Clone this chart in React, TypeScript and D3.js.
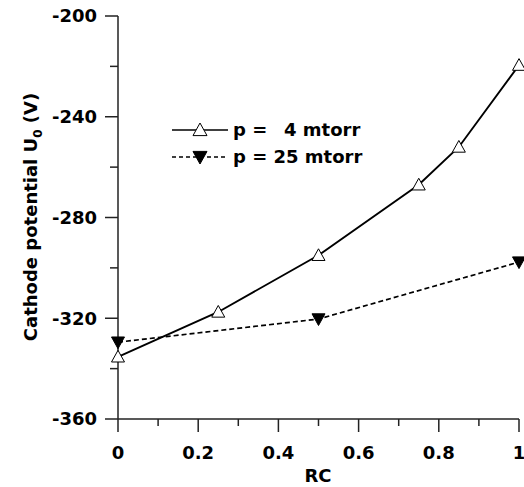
import React from "react";
import * as d3 from "d3";

const rc4 = [0, 0.25, 0.5, 0.75, 0.85, 1.0];
const u4 = [-335.3, -317.5, -295, -267, -252, -219.5];
const rc25 = [0, 0.5, 1.0];
const u25 = [-329.5, -320.3, -297.7];
const xMajor = [0, 0.2, 0.4, 0.6, 0.8, 1];
const xMinor = [0.1, 0.3, 0.5, 0.7, 0.9];
const yMajor = [-360, -320, -280, -240, -200];
const yMinor = [-340, -300, -260, -220];
const legendLabels = ["p =", "4 mtorr", "p = 25 mtorr"];

const W = 524, H = 487;
const FONT = "'DejaVu Sans', sans-serif";

export default function App() {
  const x = d3.scaleLinear().domain([0, 1]).range([118, 519]);
  const y = d3.scaleLinear().domain([-360, -200]).range([419, 16]);
  const line = d3.line<[number, number]>().x(d => x(d[0])).y(d => y(d[1])).curve(d3.curveLinear);
  const d4 = rc4.map((r, i) => [r, u4[i]] as [number, number]);
  const d25 = rc25.map((r, i) => [r, u25[i]] as [number, number]);
  const triUp = (cx: number, cy: number, s = 6.5) => `M${cx},${cy - s}L${cx + s},${cy + s * 0.8}L${cx - s},${cy + s * 0.8}Z`;
  const triDown = (cx: number, cy: number, s = 6.5) => `M${cx},${cy + s}L${cx + s},${cy - s * 0.8}L${cx - s},${cy - s * 0.8}Z`;
  const x0 = x(0), yb = y(-360);
  return (
    <svg width={W} height={H} style={{ position: "absolute", left: 0, top: 0, background: "#fff" }} fontFamily={FONT} fontWeight="bold">
      <rect width={W} height={H} fill="#fff" />
      {/* axes */}
      <line x1={x0} x2={x0} y1={y(-200)} y2={yb} stroke="#222" strokeWidth={1.5} />
      <line x1={x0} x2={x(1)} y1={yb} y2={yb} stroke="#222" strokeWidth={1.5} />
      {yMajor.map(v => (
        <g key={"ym" + v}>
          <line x1={x0 - 13} x2={x0} y1={y(v)} y2={y(v)} stroke="#222" strokeWidth={1.5} />
          <text x={97} y={y(v)} dy="0.36em" textAnchor="end" fontSize={18}>{v}</text>
        </g>
      ))}
      {yMinor.map(v => (
        <line key={"yn" + v} x1={x0 - 8} x2={x0} y1={y(v)} y2={y(v)} stroke="#222" strokeWidth={1.5} />
      ))}
      {xMajor.map(v => (
        <g key={"xm" + v}>
          <line x1={x(v)} x2={x(v)} y1={yb} y2={yb + 13} stroke="#222" strokeWidth={1.5} />
          <text x={x(v)} y={459} textAnchor="middle" fontSize={18}>{String(v)}</text>
        </g>
      ))}
      {xMinor.map(v => (
        <line key={"xn" + v} x1={x(v)} x2={x(v)} y1={yb} y2={yb + 7} stroke="#222" strokeWidth={1.5} />
      ))}
      <text x={318} y={482} textAnchor="middle" fontSize={18}>RC</text>
      <text transform={`translate(37,217) rotate(-90)`} textAnchor="middle" fontSize={18}>
        Cathode potential U<tspan fontSize={12} dy={5}>0</tspan><tspan dy={-5}> (V)</tspan>
      </text>
      {/* series */}
      <path d={line(d25) || ""} fill="none" stroke="#000" strokeWidth={1.7} strokeDasharray="5,3" />
      <path d={line(d4) || ""} fill="none" stroke="#000" strokeWidth={1.9} />
      {d4.map((d, i) => (
        <path key={"m4" + i} d={triUp(x(d[0]), y(d[1]))} fill="#fff" stroke="#000" strokeWidth={1} />
      ))}
      {d25.map((d, i) => (
        <path key={"m25" + i} d={triDown(x(d[0]), y(d[1]))} fill="#000" stroke="#000" strokeWidth={1} />
      ))}
      {/* legend */}
      <line x1={172} x2={228} y1={130} y2={130} stroke="#000" strokeWidth={1.7} />
      <path d={triUp(200, 130, 7)} fill="#fff" stroke="#000" strokeWidth={1} />
      <text x={233} y={130} dy="0.36em" fontSize={18}>{legendLabels[0]}</text>
      <text x={284} y={130} dy="0.36em" fontSize={18}>{legendLabels[1]}</text>
      <line x1={172} x2={228} y1={157} y2={157} stroke="#000" strokeWidth={1.7} strokeDasharray="4,3" />
      <path d={triDown(200, 157, 7)} fill="#000" stroke="#000" strokeWidth={1} />
      <text x={233} y={157} dy="0.36em" fontSize={18}>{legendLabels[2]}</text>
    </svg>
  );
}
